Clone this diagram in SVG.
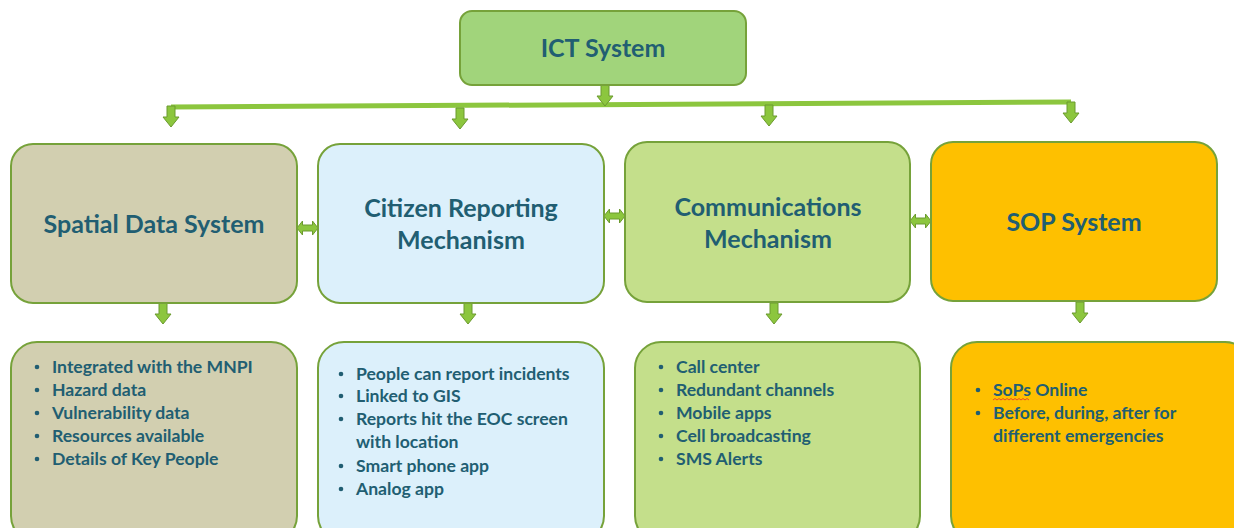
<svg xmlns="http://www.w3.org/2000/svg" width="1234" height="528" viewBox="0 0 1234 528">
  <style>
    .box { stroke: #76a23a; stroke-width: 2; }
    .title { font-family: Lato, "Open Sans", "Liberation Sans", sans-serif; font-weight: bold; font-size: 25px; fill: #215e72; text-anchor: middle; }
    .item { font-family: Lato, "Open Sans", "Liberation Sans", sans-serif; font-weight: bold; font-size: 17.6px; fill: #215e72; }
    .dot { fill: #215e72; }
    .arrow { fill: #8cc63e; stroke: #6b9a2e; stroke-width: 1; }
  </style>
  <defs>
    <path id="down" d="M-4,0 H4 V11 H8 L0,21 L-8,11 H-4 Z"/>
    <path id="both" d="M-10.5,0 L-5,-7 V-3 H5 V-7 L10.5,0 L5,7 V3 H-5 V7 Z"/>
    <circle id="bullet" r="2.3"/>
  </defs>

  <!-- connectors -->
  <g id="connectors">
    <line x1="171" y1="107" x2="1071" y2="102" stroke="#8cc63e" stroke-width="5"/>
    <use href="#down" class="arrow" x="605" y="85"/>
    <use href="#down" class="arrow" x="171" y="106"/>
    <use href="#down" class="arrow" x="460" y="108"/>
    <use href="#down" class="arrow" x="769" y="105"/>
    <use href="#down" class="arrow" x="1071" y="102"/>
    <use href="#both" class="arrow" x="307.5" y="228"/>
    <use href="#both" class="arrow" x="614.5" y="216"/>
    <use href="#both" class="arrow" x="920.5" y="221"/>
    <use href="#down" class="arrow" x="163" y="303"/>
    <use href="#down" class="arrow" x="468" y="303"/>
    <use href="#down" class="arrow" x="774" y="303"/>
    <use href="#down" class="arrow" x="1080" y="302"/>
  </g>

  <g id="ict">
    <rect class="box" x="460" y="11" width="286" height="74" rx="12" fill="#a1d47b"/>
    <text class="title" x="603" y="57">ICT System</text>
  </g>

  <g id="spatial">
    <rect class="box" x="11" y="144" width="286" height="159" rx="22" fill="#d2cfb0"/>
    <text class="title" x="154" y="233">Spatial Data System</text>
  </g>

  <g id="citizen">
    <rect class="box" x="318" y="144" width="286" height="159" rx="22" fill="#dcf0fb"/>
    <text class="title" x="461" y="217">Citizen Reporting</text>
    <text class="title" x="461" y="249">Mechanism</text>
  </g>

  <g id="comms">
    <rect class="box" x="625" y="142" width="285" height="160" rx="22" fill="#c4df8b"/>
    <text class="title" x="768" y="216">Communications</text>
    <text class="title" x="768" y="248">Mechanism</text>
  </g>

  <g id="sop">
    <rect class="box" x="931" y="142" width="286" height="159" rx="22" fill="#fec000"/>
    <text class="title" x="1074" y="231">SOP System</text>
  </g>

  <g id="spatial-details">
    <rect class="box" x="11" y="342" width="286" height="200" rx="26" fill="#d2cfb0"/>
    <g class="dot">
      <use href="#bullet" x="37" y="367"/>
      <use href="#bullet" x="37" y="390"/>
      <use href="#bullet" x="37" y="413"/>
      <use href="#bullet" x="37" y="436"/>
      <use href="#bullet" x="37" y="459"/>
    </g>
    <g class="item">
      <text x="52" y="373">Integrated with the MNPI</text>
      <text x="52" y="396">Hazard data</text>
      <text x="52" y="419">Vulnerability data</text>
      <text x="52" y="442">Resources available</text>
      <text x="52" y="465">Details of Key People</text>
    </g>
  </g>

  <g id="citizen-details">
    <rect class="box" x="318" y="342" width="286" height="200" rx="26" fill="#dcf0fb"/>
    <g class="dot">
      <use href="#bullet" x="341" y="374"/>
      <use href="#bullet" x="341" y="396"/>
      <use href="#bullet" x="341" y="419"/>
      <use href="#bullet" x="341" y="466"/>
      <use href="#bullet" x="341" y="489"/>
    </g>
    <g class="item">
      <text x="356" y="380">People can report incidents</text>
      <text x="356" y="402">Linked to GIS</text>
      <text x="356" y="425">Reports hit the EOC screen</text>
      <text x="356" y="448">with location</text>
      <text x="356" y="472">Smart phone app</text>
      <text x="356" y="495">Analog app</text>
    </g>
  </g>

  <g id="comms-details">
    <rect class="box" x="635" y="342" width="285" height="200" rx="26" fill="#c4df8b"/>
    <g class="dot">
      <use href="#bullet" x="661" y="367"/>
      <use href="#bullet" x="661" y="390"/>
      <use href="#bullet" x="661" y="413"/>
      <use href="#bullet" x="661" y="436"/>
      <use href="#bullet" x="661" y="459"/>
    </g>
    <g class="item">
      <text x="676" y="373">Call center</text>
      <text x="676" y="396">Redundant channels</text>
      <text x="676" y="419">Mobile apps</text>
      <text x="676" y="442">Cell broadcasting</text>
      <text x="676" y="465">SMS Alerts</text>
    </g>
  </g>

  <g id="sop-details">
    <rect class="box" x="951" y="342" width="300" height="200" rx="26" fill="#fec000"/>
    <g class="dot">
      <use href="#bullet" x="978" y="390"/>
      <use href="#bullet" x="978" y="413"/>
    </g>
    <g class="item">
      <text x="993" y="396">SoPs Online</text>
      <text x="993" y="419">Before, during, after for</text>
      <text x="993" y="442">different emergencies</text>
    </g>
    <!-- spell-check squiggle under "SoPs" -->
    <path d="M993,400 l2,-1.5 l2,1.5 l2,-1.5 l2,1.5 l2,-1.5 l2,1.5 l2,-1.5 l2,1.5 l2,-1.5 l2,1.5 l2,-1.5 l2,1.5 l2,-1.5 l2,1.5 l2,-1.5 l2,1.5 l2,-1.5 l2,1.5" fill="none" stroke="#e03030" stroke-width="0.8"/>
  </g>
</svg>
